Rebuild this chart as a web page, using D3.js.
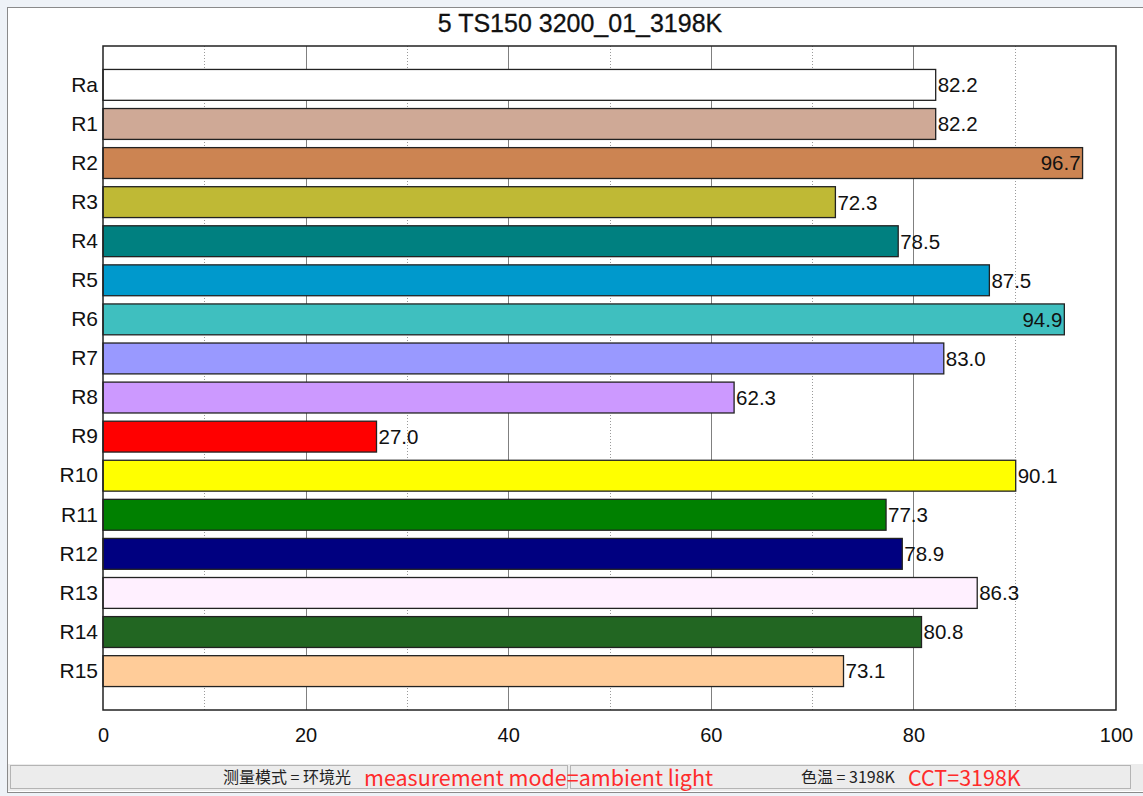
<!DOCTYPE html>
<html>
<head>
<meta charset="utf-8">
<script src="https://cdn.jsdelivr.net/npm/d3@7/dist/d3.min.js"></script>
<style>
  body { margin: 0; background: #eef2f7; }
  svg { display: block; font-family: "Liberation Sans", Arial, sans-serif; }
</style>
</head>
<body>
<svg id="chart" width="1143" height="796"></svg>
<script>
(function (d3) {

  var TITLE = '5 TS150 3200_01_3198K';

  var categories = ['Ra', 'R1', 'R2', 'R3', 'R4', 'R5', 'R6', 'R7', 'R8', 'R9', 'R10', 'R11', 'R12', 'R13', 'R14', 'R15'];
  var values = [82.2, 82.2, 96.7, 72.3, 78.5, 87.5, 94.9, 83.0, 62.3, 27.0, 90.1, 77.3, 78.9, 86.3, 80.8, 73.1];
  var colors = ['#ffffff', '#cfa996', '#cc8452', '#bfb935', '#008080', '#0099cc', '#3fbfbf', '#9999ff',
                '#cc99ff', '#ff0000', '#ffff00', '#008000', '#000080', '#fff0ff', '#226622', '#ffcc99'];
  var ticks = [0, 20, 40, 60, 80, 100];
  var minor_ticks = [10, 30, 50, 70, 90];

  var status_cn_1 = '测量模式 = 环境光';
  var status_en_1 = 'measurement mode=ambient light';
  var status_cn_2 = '色温 = 3198K';
  var status_en_2 = 'CCT=3198K';

  var PLOT_LEFT = 103;
  var PLOT_RIGHT = 1116;
  var PLOT_TOP = 46;
  var PLOT_BOTTOM = 710;

  var svg = d3.select('#chart');

  // window frame
  svg.append('rect')
      .attr('x', 7.5).attr('y', 7.5)
      .attr('width', 1143).attr('height', 785)
      .attr('fill', '#ffffff')
      .attr('stroke', '#8a8a8a');

  var x = d3.scaleLinear().domain([0, 100]).range([PLOT_LEFT, PLOT_RIGHT]);
  var y = d3.scaleBand().domain(categories).range([PLOT_TOP, PLOT_BOTTOM])
      .paddingInner(0.21).paddingOuter(0.6);

  // grid
  svg.append('g').selectAll('line.minor')
      .data(minor_ticks).enter().append('line')
      .attr('x1', function (d) { return Math.round(x(d)) + 0.5; })
      .attr('x2', function (d) { return Math.round(x(d)) + 0.5; })
      .attr('y1', PLOT_TOP).attr('y2', PLOT_BOTTOM)
      .attr('stroke', '#9a9a9a')
      .attr('stroke-dasharray', '1,2');

  svg.append('g').selectAll('line.major')
      .data(ticks.slice(1, -1)).enter().append('line')
      .attr('x1', function (d) { return Math.round(x(d)) + 0.5; })
      .attr('x2', function (d) { return Math.round(x(d)) + 0.5; })
      .attr('y1', PLOT_TOP).attr('y2', PLOT_BOTTOM)
      .attr('stroke', '#808080');

  // bars
  svg.append('g').selectAll('rect')
      .data(values).enter().append('rect')
      .attr('x', x(0))
      .attr('y', function (d, i) { return y(categories[i]); })
      .attr('width', function (d) { return x(d) - x(0); })
      .attr('height', y.bandwidth())
      .attr('fill', function (d, i) { return colors[i]; })
      .attr('stroke', '#222')
      .attr('stroke-width', 1.3);

  // value labels, inside the bar when they would run past the frame
  svg.append('g').selectAll('text')
      .data(values).enter().append('text')
      .attr('x', function (d) { return x(d) > 1060 ? x(d) - 2 : x(d) + 2; })
      .attr('y', function (d, i) { return y(categories[i]) + y.bandwidth() / 2; })
      .attr('dy', '0.36em')
      .attr('text-anchor', function (d) { return x(d) > 1060 ? 'end' : 'start'; })
      .attr('font-size', 20.5)
      .attr('fill', '#111')
      .text(function (d) { return d.toFixed(1); });

  // plot border
  svg.append('rect')
      .attr('x', PLOT_LEFT).attr('y', PLOT_TOP)
      .attr('width', PLOT_RIGHT - PLOT_LEFT).attr('height', PLOT_BOTTOM - PLOT_TOP)
      .attr('fill', 'none')
      .attr('stroke', '#222')
      .attr('stroke-width', 1.5);

  // category axis
  var y_axis = svg.append('g')
      .attr('transform', 'translate(' + (PLOT_LEFT - 5) + ',0)')
      .call(d3.axisLeft(y).tickSize(0).tickPadding(0));
  y_axis.select('.domain').remove();
  y_axis.selectAll('text')
      .attr('font-size', 21)
      .attr('font-family', '"Liberation Sans", Arial, sans-serif')
      .attr('fill', '#111');

  // value axis
  var x_axis = svg.append('g')
      .attr('transform', 'translate(0,' + PLOT_BOTTOM + ')')
      .call(d3.axisBottom(x).tickValues(ticks).tickSize(0).tickPadding(18));
  x_axis.select('.domain').remove();
  x_axis.selectAll('text')
      .attr('font-size', 20)
      .attr('font-family', '"Liberation Sans", Arial, sans-serif')
      .attr('fill', '#111');

  // title
  svg.append('text')
      .attr('x', 580).attr('y', 32)
      .attr('text-anchor', 'middle')
      .attr('font-size', 25)
      .attr('fill', '#111')
      .attr('stroke', '#111')
      .attr('stroke-width', 0.3)
      .text(TITLE);

  // status bar
  svg.append('rect')
      .attr('x', 8).attr('y', 764)
      .attr('width', 1135).attr('height', 27)
      .attr('fill', '#ececec');

  svg.append('rect')
      .attr('x', 10.5).attr('y', 765.5)
      .attr('width', 557).attr('height', 23)
      .attr('fill', 'none').attr('stroke', '#b4b4b4');
  svg.append('rect')
      .attr('x', 570.5).attr('y', 765.5)
      .attr('width', 560).attr('height', 23)
      .attr('fill', 'none').attr('stroke', '#b4b4b4');

  svg.append('line')
      .attr('x1', 8).attr('x2', 1143)
      .attr('y1', 792.5).attr('y2', 792.5)
      .attr('stroke', '#8a8a8a');

  var status = svg.append('g')
      .attr('font-family', '"Noto Sans CJK SC", "Noto Sans", sans-serif');

  status.append('text')
      .attr('x', 223).attr('y', 783)
      .attr('font-size', 16)
      .attr('fill', '#222')
      .text(status_cn_1);
  status.append('text')
      .attr('x', 364).attr('y', 786)
      .attr('font-size', 21.5)
      .attr('fill', '#ff2b2b')
      .text(status_en_1);
  status.append('text')
      .attr('x', 801).attr('y', 783)
      .attr('font-size', 16)
      .attr('fill', '#222')
      .text(status_cn_2);
  status.append('text')
      .attr('x', 908).attr('y', 786)
      .attr('font-size', 21.5)
      .attr('fill', '#ff2b2b')
      .text(status_en_2);

})(d3);
</script>
</body>
</html>
